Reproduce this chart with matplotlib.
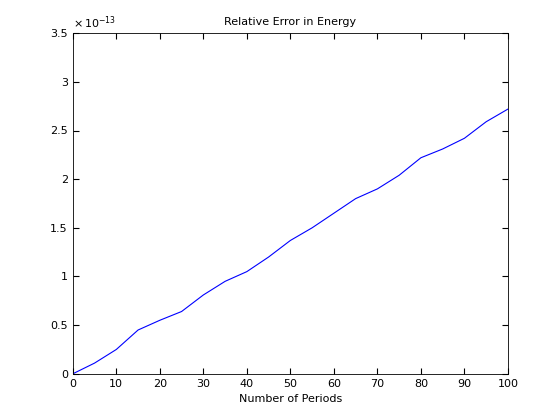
import matplotlib
matplotlib.use("Agg")
import matplotlib.pyplot as plt

# relative error values (in units of 1e-13)
periods = [0, 5, 10, 15, 20, 25, 30, 35, 40, 45, 50, 55, 60, 65, 70, 75, 80, 85, 90, 95, 100]
rel_err = [0.0, 0.11, 0.25, 0.45, 0.55, 0.64, 0.81, 0.95, 1.05, 1.2, 1.37, 1.5, 1.65, 1.8, 1.9, 2.04, 2.22, 2.31, 2.42, 2.59, 2.72]

fig = plt.figure(figsize=(5.6, 4.2), dpi=100)
ax = fig.add_axes([0.130, 0.110, 0.777, 0.811])
ax.plot(periods, rel_err, color="blue", linewidth=0.8)

ax.set_xlim(0, 100)
ax.set_ylim(0, 3.5)
ax.set_xticks(range(0, 101, 10))
ax.set_yticks([0, 0.5, 1, 1.5, 2, 2.5, 3, 3.5])
ax.set_yticklabels(["0", "0.5", "1", "1.5", "2", "2.5", "3", "3.5"])
ax.tick_params(direction="in", labelsize=8, top=True, right=True, length=4)
for s in ax.spines.values():
    s.set_linewidth(0.6)

ax.set_title("Relative Error in Energy", fontsize=8)
ax.set_xlabel("Number of Periods", fontsize=8)
ax.text(0.0, 1.005, r"$\times\,10^{-13}$", transform=ax.transAxes, fontsize=8,
        ha="left", va="bottom")

fig.savefig("out.png", dpi=100)
